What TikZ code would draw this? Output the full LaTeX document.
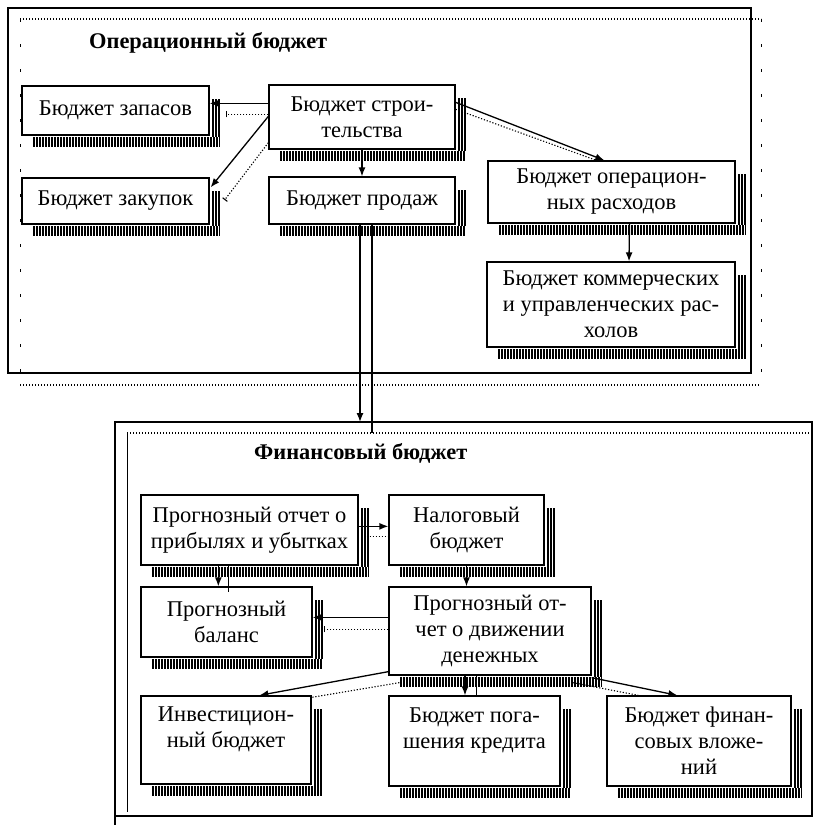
\documentclass[tikz,border=0pt]{standalone}
\usepackage{fontspec}
\setmainfont{Liberation Serif}
\usetikzlibrary{calc,arrows.meta}
\tikzset{
  bx/.style={draw, line width=1.3pt, fill=white, inner sep=0pt, align=center,
    font=\fontsize{22.5}{26}\selectfont},
  ttl/.style={anchor=west, inner sep=0pt, font=\fontsize{22.4}{26}\selectfont\bfseries},
  con/.style={line width=1.3pt, -{Latex[length=9pt,width=7pt]}},
  plain/.style={line width=1.3pt},
  thin/.style={line width=0.9pt},
  dots/.style={line width=1.1pt, dash pattern=on 1.2pt off 1.8pt},
  dotsbar/.style={dots, -{Bar[width=6pt,line width=1.1pt]}},
  sparse/.style={line width=0.8pt, dash pattern=on 3pt off 22pt},
  frame/.style={line width=1.5pt},
  shb/.style={line width=10pt, dash pattern=on 1.6pt off 1.4pt},
  shr/.style={line width=1.4pt}
}
\newcommand{\shadowfor}[1]{%
  \draw[shb] ($(#1.south west)+(12,6.5)$) -- ($(#1.south east)+(10,6.5)$);
  \foreach \dx in {3.5,6.5,9.5}{\draw[shr] ($(#1.north east)+(\dx,14)$) -- ($(#1.south east)+(\dx,1.5)$);}
}
\begin{document}
\begin{tikzpicture}[x=1pt,y=-1pt]
\useasboundingbox (0,0) rectangle (815,825);
% ---------- frames ----------
\draw[frame] (8,8) rectangle (751,373);
\draw[dots] (20,19) -- (761,19);
\draw[dots] (20,385) -- (759,385);
\draw[sparse] (20,19) -- (20,375);
\draw[sparse] (761,19) -- (761,380);
\coordinate (ftop) at (115,422);
\coordinate (fin_in) at (127,433);
\draw[frame] (115,825) -- (ftop) -- (812,422) -- (812,816) -- (115,816);
\draw[dots] (fin_in) -- (813,433);
\draw[thin] (fin_in) -- (127,812);
% ---------- titles ----------
\node[ttl] (t1) at (89,43) {Операционный бюджет};
\node[ttl] (t2) at (254,453) {Финансовый бюджет};
% ---------- top boxes ----------
\node[bx, minimum width=187pt, minimum height=49pt] (zap) at (115.5,110.5) {Бюджет запасов};
\node[bx, minimum width=186pt, minimum height=64pt] (str) at (362,117) {Бюджет строи-\\тельства};
\node[bx, minimum width=187pt, minimum height=46pt] (zak) at (115.5,201) {Бюджет закупок};
\node[bx, minimum width=186pt, minimum height=47pt] (prod) at (362,200.5) {Бюджет продаж};
\node[bx, minimum width=247pt, minimum height=62pt] (oper) at (611.5,192) {Бюджет операцион-\\ных расходов};
\node[bx, minimum width=248pt, minimum height=85pt] (komm) at (611,304.5) {Бюджет коммерческих\\и управленческих рас-\\холов};
% ---------- bottom boxes ----------
\node[bx, minimum width=217pt, minimum height=70pt] (popu) at (249.5,530) {Прогнозный отчет о\\прибылях и убытках};
\node[bx, minimum width=155pt, minimum height=70pt] (nal) at (466.5,530) {Налоговый\\бюджет};
\node[bx, minimum width=171pt, minimum height=70pt] (bal) at (226.5,622) {Прогнозный\\баланс};
\node[bx, minimum width=202pt, minimum height=88pt] (dds) at (490,631) {Прогнозный от-\\чет о движении\\денежных};
\node[bx, minimum width=170pt, minimum height=88pt] (inv) at (226,740) {Инвестицион-\\ный бюджет\\\phantom{ний}};
\node[bx, minimum width=171pt, minimum height=90pt] (pog) at (474.5,741) {Бюджет пога-\\шения кредита\\\phantom{ний}};
\node[bx, minimum width=184pt, minimum height=90pt] (fin) at (699,741) {Бюджет финан-\\совых вложе-\\ний};
% ---------- shadows ----------
\foreach \n in {zap,str,zak,prod,oper,komm,popu,nal,bal,dds,inv,pog,fin}{\shadowfor{\n}}
% ---------- top connectors ----------
\draw[con] ($(str.north west)+(0,19)$) -- ($(zap.north east)+(0,18)$);
\draw[dotsbar] ($(str.north west)+(0,30)$) -- ($(zap.north east)+(16,29)$);
\draw[con] ($(str.north west)+(0,32)$) -- ($(zak.north east)+(1,10)$);
\draw[dotsbar] ($(str.south west)+(0,-7)$) -- ($(zak.east)+(15,-1)$);
\draw[con] (str.south) -- (prod.north);
\draw[con] ($(str.north east)+(0,18)$) -- ($(oper.north west)+(117,0)$);
\draw[dots] ($(str.north east)+(0,25)$) -- ($(oper.north west)+(109,0)$);
\draw[con] ($(oper.south)+(18,0)$) -- ($(komm.north)+(18,0)$);
\coordinate (pl) at ($(prod.south)+(-2,0)$);
\coordinate (pr) at ($(prod.south)+(10,0)$);
\draw[con] (pl) -- (pl |- ftop);
\draw[plain] (pr) -- (pr |- fin_in);
% ---------- bottom connectors ----------
\draw[con] ($(popu.north east)+(0,32)$) -- ($(nal.north west)+(0,32)$);
\draw[dots] ($(popu.north east)+(8,42)$) -- ($(nal.north west)+(0,42)$);
\draw[con] ($(popu.south west)+(78,0)$) -- ($(bal.north west)+(78,0)$);
\draw[thin] ($(popu.south west)+(88,0)$) -- ($(bal.north west)+(88,6)$);
\draw[con] (nal.south) -- (nal.south |- dds.north);
\draw[con] ($(dds.north west)+(0,31)$) -- ($(bal.north east)+(0,31)$);
\draw[dotsbar] ($(dds.north west)+(0,43)$) -- ($(bal.north east)+(11,43)$);
\draw[con] ($(dds.south west)+(0,-4)$) -- ($(inv.north west)+(119,0)$);
\draw[dots] ($(dds.south west)+(11,7)$) -- ($(inv.north east)+(0,2)$);
\coordinate (dl) at ($(dds.south)+(-25,0)$);
\coordinate (dr) at ($(dds.south)+(-14,0)$);
\draw[con] (dl) -- (dl |- pog.north);
\draw[thin] (dr) -- (dr |- pog.north);
\draw[con] ($(dds.south east)+(0,2)$) -- ($(fin.north west)+(71,0)$);
\draw[dots] ($(dds.south east)+(-19,7)$) -- ($(fin.north west)+(32,0)$);
\end{tikzpicture}
\end{document}
